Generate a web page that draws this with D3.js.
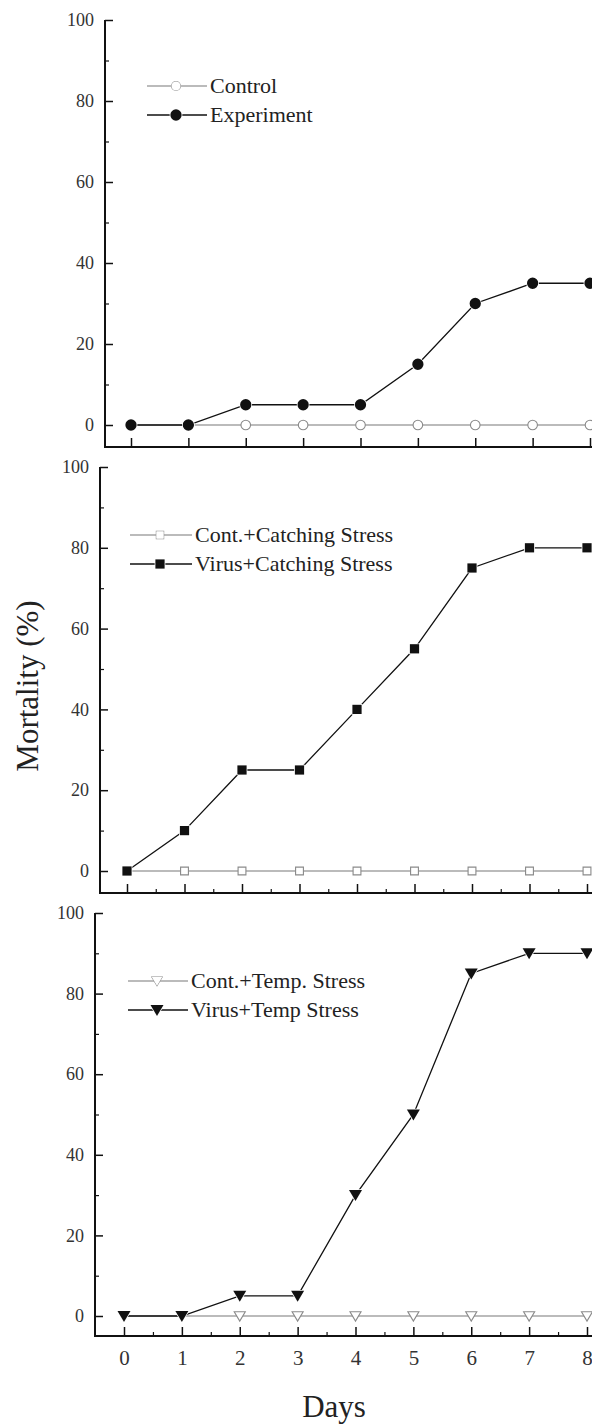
<!DOCTYPE html>
<html>
<head>
<meta charset="utf-8">
<script src="https://cdn.jsdelivr.net/npm/d3@7"></script>
<style>
  body { margin: 0; background: #fff; }
  svg { display: block; font-family: "Liberation Serif", "DejaVu Serif", serif; }
</style>
</head>
<body>
<svg id="chart" width="592" height="1424"></svg>
<script>
// data
var days = [0, 1, 2, 3, 4, 5, 6, 7, 8],
	yTicks = [0, 20, 40, 60, 80, 100],
	yMinor = [10, 30, 50, 70, 90],
	ctrlCatch = [0, 0, 0, 0, 0, 0, 0, 0, 0],
	expCatch = [0, 0, 5, 5, 5, 15, 30, 35, 35],
	ctrlStress = [0, 0, 0, 0, 0, 0, 0, 0, 0],
	virusStress = [0, 10, 25, 25, 40, 55, 75, 80, 80],
	ctrlTemp = [0, 0, 0, 0, 0, 0, 0, 0, 0],
	virusTemp = [0, 0, 5, 5, 30, 50, 85, 90, 90],
	legendNames = [
		["Control", "Experiment"],
		["Cont.+Catching Stress", "Virus+Catching Stress"],
		["Cont.+Temp. Stress", "Virus+Temp  Stress"]
	];

var svg = d3.select("#chart"),
	W = 592;

// one entry per stacked panel (scan is slightly skewed, so each has its own edges)
var panels = [
	{axisX: 105, x0: 131, x8: 590, top: 20, zero: 425, bottom: 447, shape: d3.symbolCircle, size: 100,
	 ctrl: ctrlCatch, exp: expCatch, names: legendNames[0], legX: 147, legY: 86, minorX: false, legW: 60},
	{axisX: 100, x0: 127, x8: 587, top: 467, zero: 871, bottom: 893, shape: d3.symbolSquare, size: 85,
	 ctrl: ctrlStress, exp: virusStress, names: legendNames[1], legX: 130, legY: 535, minorX: true, legW: 62},
	{axisX: 95, x0: 124, x8: 587, top: 913, zero: 1316, bottom: 1336, shape: "tri", size: 100,
	 ctrl: ctrlTemp, exp: virusTemp, names: legendNames[2], legX: 128, legY: 981, minorX: true, legW: 60}
];

function symPath(p) {
	if (p.shape === "tri") {
		// downward triangle
		return function(){ return "M-6.5,-5L6.5,-5L0,6Z"; };
	}
	return d3.symbol().type(p.shape).size(p.size);
}

panels.forEach(function(p, i){
	var x = d3.scaleLinear().domain([0, 8]).range([p.x0, p.x8]),
		y = d3.scaleLinear().domain([0, 100]).range([p.zero, p.top]);
	var g = svg.append("g");

	// y axis, ticks inward
	var yAxis = d3.axisLeft(y).tickValues(yTicks).tickSizeInner(-8).tickSizeOuter(0).tickPadding(11);
	var ya = g.append("g").attr("transform", "translate(" + p.axisX + ",0)").call(yAxis);
	ya.select(".domain").remove();
	ya.selectAll(".tick line").attr("stroke", "#111").attr("stroke-width", 1.5);
	ya.selectAll(".tick text").attr("font-size", 18).attr("fill", "#333")
		.attr("font-family", "Liberation Serif, serif");

	var yMin = d3.axisLeft(y).tickValues(yMinor).tickSizeInner(-4).tickSizeOuter(0).tickFormat("");
	var ym = g.append("g").attr("transform", "translate(" + p.axisX + ",0)").call(yMin);
	ym.select(".domain").remove();
	ym.selectAll(".tick line").attr("stroke", "#111").attr("stroke-width", 1.2);

	// x axis, ticks inward; labels only on the bottom panel
	var xAxis = d3.axisBottom(x).tickValues(days).tickSizeInner(-9).tickSizeOuter(0)
		.tickFormat(i === 2 ? d3.format("d") : "").tickPadding(14);
	var xa = g.append("g").attr("transform", "translate(0," + p.bottom + ")").call(xAxis);
	xa.select(".domain").remove();
	xa.selectAll(".tick line").attr("stroke", "#111").attr("stroke-width", 1.5);
	xa.selectAll(".tick text").attr("font-size", 21).attr("fill", "#333")
		.attr("font-family", "Liberation Serif, serif");

	if (p.minorX) {
		var xMin = d3.axisBottom(x).tickValues(days.slice(0, 8).map(function(d){ return d + 0.5; }))
			.tickSizeInner(-4).tickSizeOuter(0).tickFormat("");
		var xm = g.append("g").attr("transform", "translate(0," + p.bottom + ")").call(xMin);
		xm.select(".domain").remove();
		xm.selectAll(".tick line").attr("stroke", "#111").attr("stroke-width", 1.2);
	}

	// axis lines
	g.append("line").attr("x1", p.axisX).attr("x2", p.axisX).attr("y1", p.top).attr("y2", p.bottom + 1)
		.attr("stroke", "#111").attr("stroke-width", 2);
	g.append("line").attr("x1", p.axisX).attr("x2", W).attr("y1", p.bottom).attr("y2", p.bottom)
		.attr("stroke", "#111").attr("stroke-width", 2);

	var line = d3.line().x(function(d, k){ return x(days[k]); }).y(function(d){ return y(d); });

	// control series (grey, open markers)
	g.append("path").datum(p.ctrl).attr("d", line).attr("fill", "none")
		.attr("stroke", "#a5a5a5").attr("stroke-width", 1.3);
	g.selectAll(".ctrl").data(p.ctrl).enter().append("path")
		.attr("class", "ctrl")
		.attr("d", symPath(p)).attr("fill", "#fff").attr("stroke", "#8a8a8a").attr("stroke-width", 1.3)
		.attr("transform", function(d, k){
			return "translate(" + x(days[k]) + "," + y(d) + ") scale(0.85)";
		});

	// experiment series (black, filled markers)
	g.append("path").datum(p.exp).attr("d", line).attr("fill", "none")
		.attr("stroke", "#111").attr("stroke-width", 1.3);
	g.selectAll(".exp").data(p.exp).enter().append("path")
		.attr("class", "exp")
		.attr("transform", function(d, k){ return "translate(" + x(days[k]) + "," + y(d) + ")"; })
		.attr("d", symPath(p)).attr("fill", "#111").attr("stroke", "#fff").attr("stroke-width", 1.5)
		.attr("paint-order", "stroke");

	// legend
	var leg = g.append("g").attr("transform", "translate(" + p.legX + "," + p.legY + ")");
	[0, 1].forEach(function(r){
		var row = leg.append("g").attr("transform", "translate(0," + (r * 29) + ")");
		row.append("line").attr("x1", 0).attr("x2", p.legW).attr("y1", 0).attr("y2", 0)
			.attr("stroke", r === 0 ? "#a5a5a5" : "#111").attr("stroke-width", 1.3);
		row.append("path").attr("d", symPath(p))
			.attr("transform", "translate(" + (p.legW / 2 - 1) + ",0)" + (r === 0 ? " scale(0.8)" : ""))
			.attr("fill", r === 0 ? "#fff" : "#111")
			.attr("stroke", r === 0 ? "#8a8a8a" : "#fff").attr("stroke-width", r === 0 ? 1.3 : 1.5)
			.attr("paint-order", "stroke");
		row.append("text").attr("x", p.legW + 3).attr("y", 7).attr("font-size", 22).attr("fill", "#222")
			.text(p.names[r]);
	});
});

// shared axis titles
svg.append("text").attr("transform", "translate(38,686) rotate(-90)")
	.attr("text-anchor", "middle").attr("font-size", 31).attr("fill", "#222")
	.text("Mortality (%)");
svg.append("text").attr("x", 334).attr("y", 1417)
	.attr("text-anchor", "middle").attr("font-size", 31).attr("fill", "#222")
	.text("Days");
</script>
</body>
</html>
